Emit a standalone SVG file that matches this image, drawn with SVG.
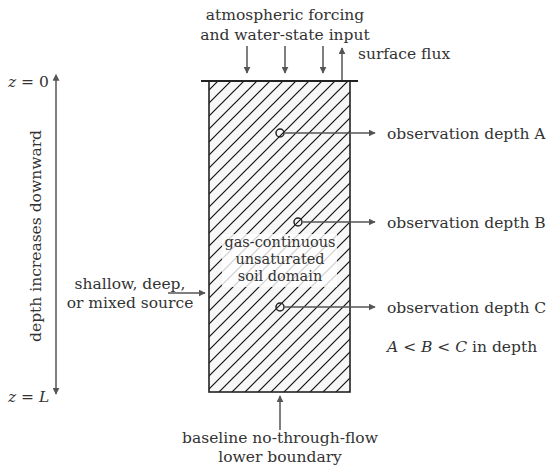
<svg xmlns="http://www.w3.org/2000/svg" width="550" height="467" viewBox="0 0 550 467">
<defs>
<pattern id="hatch" patternUnits="userSpaceOnUse" width="13" height="13">
<path d="M-3.25,3.25 L3.25,-3.25 M0,13 L13,0 M9.75,16.25 L16.25,9.75" stroke="#111" stroke-width="1.2"/>
</pattern>
<marker id="ah" viewBox="0 0 10 10" refX="9" refY="5" markerWidth="7" markerHeight="7" markerUnits="userSpaceOnUse" orient="auto">
<path d="M0,0 L10,5 L0,10 z" fill="#555"/>
</marker>
<marker id="ahs" viewBox="0 0 10 10" refX="1" refY="5" markerWidth="7" markerHeight="7" markerUnits="userSpaceOnUse" orient="auto-start-reverse">
<path d="M0,0 L10,5 L0,10 z" fill="#555"/>
</marker>
</defs>
<style>
text{font-family:"DejaVu Serif",serif;font-size:15.5px;fill:#333}
.c{text-anchor:middle}
.m{font-size:14.5px}
.a{stroke:#555;stroke-width:1.5;fill:none;marker-end:url(#ah)}
.it{font-style:italic}
</style>
<rect width="550" height="467" fill="#fff"/>
<g id="domain">
<rect x="209" y="81" width="141" height="311" fill="#f7f7f7"/>
<rect x="209" y="81" width="141" height="311" fill="url(#hatch)" stroke="#222" stroke-width="1.6"/>
<line x1="201" y1="81" x2="358" y2="81" stroke="#222" stroke-width="2"/>
<rect x="222" y="234" width="115" height="53" fill="#fff" fill-opacity="0.8"/>
<text class="c m" x="280" y="247">gas-continuous</text>
<text class="c m" x="280" y="264">unsaturated</text>
<text class="c m" x="280" y="281">soil domain</text>
</g>
<g id="top-label">
<text class="c" x="285" y="20">atmospheric forcing</text>
<text class="c" x="285" y="40">and water-state input</text>
</g>
<g id="surface-flux">
<text x="358" y="59">surface flux</text>
</g>
<g id="obsA">
<circle cx="280" cy="133" r="4" fill="none" stroke="#222" stroke-width="1.5"/>
<text x="387" y="139">observation depth A</text>
</g>
<g id="obsB">
<circle cx="298" cy="222" r="4" fill="none" stroke="#222" stroke-width="1.5"/>
<text x="387" y="228">observation depth B</text>
</g>
<g id="obsC">
<circle cx="280" cy="307" r="4" fill="none" stroke="#222" stroke-width="1.5"/>
<text x="387" y="313">observation depth C</text>
</g>
<g id="order">
<text x="387" y="352"><tspan class="it">A</tspan> &lt; <tspan class="it">B</tspan> &lt; <tspan class="it">C</tspan> in depth</text>
</g>
<g id="source">
<text class="c" x="130" y="289">shallow, deep,</text>
<text class="c" x="130" y="308">or mixed source</text>
</g>
<g id="bottom-label">
<text class="c" x="280" y="443">baseline no-through-flow</text>
<text class="c" x="280" y="462">lower boundary</text>
</g>
<g id="depth-axis">
<text x="8" y="87"><tspan class="it">z</tspan> = 0</text>
<text x="8" y="402"><tspan class="it">z</tspan> = <tspan class="it">L</tspan></text>
<text class="c" transform="translate(41,236) rotate(-90)">depth increases downward</text>
</g>
<g id="connectors">
<line class="a" x1="247" y1="46" x2="247" y2="73"/>
<line class="a" x1="285" y1="46" x2="285" y2="73"/>
<line class="a" x1="323" y1="46" x2="323" y2="73"/>
<line class="a" x1="342" y1="80" x2="342" y2="48"/>
<line class="a" x1="285" y1="133" x2="375" y2="133"/>
<line class="a" x1="303" y1="222" x2="375" y2="222"/>
<line class="a" x1="285" y1="307" x2="375" y2="307"/>
<line class="a" x1="168" y1="293" x2="205" y2="293"/>
<line class="a" x1="280" y1="430" x2="280" y2="396"/>
<line x1="56" y1="80" x2="56" y2="394" stroke="#555" stroke-width="1.5" marker-start="url(#ahs)" marker-end="url(#ah)"/>
</g>
</svg>
